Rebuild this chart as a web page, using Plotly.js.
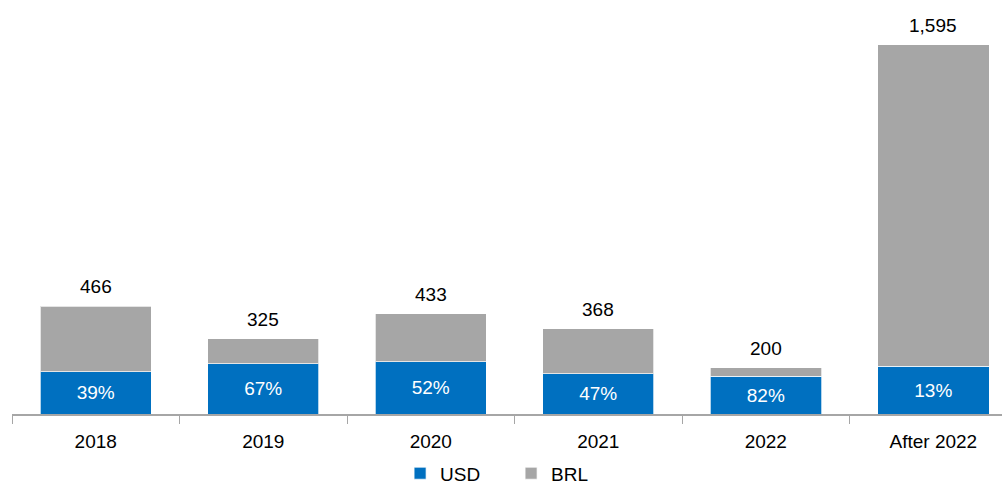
<!DOCTYPE html>
<html><head><meta charset="utf-8">
<script src="https://cdn.plot.ly/plotly-3.0.1.min.js"></script>
<style>html,body{margin:0;padding:0;background:#fff}#chart{width:1002px;height:487px}</style>
</head><body><div id="chart"></div>
<script>
const categories = ["2018", "2019", "2020", "2021", "2022", "After 2022"];
const totals = [466, 325, 433, 368, 200, 1595];
const usdShare = [39, 67, 52, 47, 82, 13];
const usdValues = totals.map((t, i) => t * usdShare[i] / 100);
const brlValues = totals.map((t, i) => t - usdValues[i]);
const usdLabels = usdShare.map(p => p + "%");
const totalLabels = totals.map(t => t.toLocaleString("en-US"));

const font = "Liberation Sans, Arial, sans-serif";
const traces = [
  {type: "bar", name: "USD", x: categories, y: usdValues, text: usdLabels,
   textposition: "inside", insidetextanchor: "middle", constraintext: "none",
   textfont: {color: "#ffffff", size: 19, family: font},
   marker: {color: "#0070C0", line: {color: "rgba(255,255,255,0.7)", width: 1}},
   width: 0.665, hoverinfo: "skip"},
  {type: "bar", name: "BRL", x: categories, y: brlValues,
   marker: {color: "#A6A6A6", line: {color: "rgba(255,255,255,0.7)", width: 1}},
   width: 0.665, hoverinfo: "skip"}
];
const annotations = categories.map((c, i) => ({
  x: i, y: totals[i], text: totalLabels[i], showarrow: false,
  yanchor: "bottom", yshift: 7, font: {size: 19, color: "#000", family: font}
}));
const layout = {
  width: 1002, height: 487, barmode: "stack",
  margin: {l: 12, r: 0, t: 20, b: 73},
  paper_bgcolor: "#fff", plot_bgcolor: "#fff",
  showlegend: true,
  legend: {orientation: "h", x: 0.392, xanchor: "left", yref: "container", y: 0.028, yanchor: "middle",
           entrywidth: 66, entrywidthmode: "pixels", itemwidth: 30,
           font: {size: 19, color: "#000", family: font}, traceorder: "normal"},
  xaxis: {type: "category", range: [-0.5, 5.41], showline: true, linecolor: "#A6A6A6", linewidth: 2,
          ticks: "outside", tickson: "boundaries", ticklen: 8, tickcolor: "#A6A6A6", tickwidth: 1,
          ticklabelstandoff: 9,
          tickfont: {size: 19, color: "#000", family: font}, showgrid: false, zeroline: false},
  yaxis: {range: [0, 1703], visible: false, showgrid: false, zeroline: false},
  annotations: annotations
};
Plotly.newPlot("chart", traces, layout, {displayModeBar: false, staticPlot: true});
</script></body></html>
